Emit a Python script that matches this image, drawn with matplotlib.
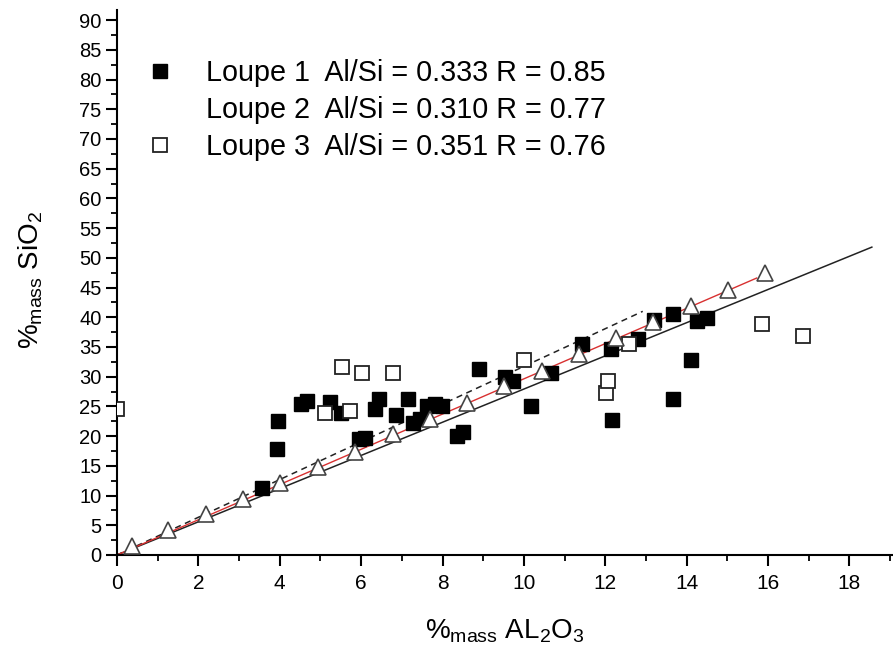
#!/usr/bin/env python3
"""SiO2 vs Al2O3 (% massique) pour les trois loupes, avec droites Al/Si."""

import matplotlib
matplotlib.use("Agg")
import matplotlib.pyplot as plt
from matplotlib.lines import Line2D
from matplotlib.ticker import MultipleLocator

# ── données ──────────────────────────────────────────────────────────────────

# Loupe 1 (carrés pleins)
loupe1_al2o3 = [3.56, 3.93, 3.96, 4.52, 4.67, 5.23, 5.50, 5.95, 6.09, 6.34,
                6.44, 6.86, 7.15, 7.27, 7.44, 7.62, 7.81, 7.99, 8.35, 8.50,
                8.89, 9.53, 9.73, 10.17, 10.66, 11.43, 12.14, 12.16, 12.80,
                13.19, 13.66, 14.25, 14.50, 14.10, 13.66]
loupe1_sio2 = [11.3, 17.8, 22.5, 25.4, 25.9, 25.7, 23.9, 19.5, 19.7, 24.6,
               26.2, 23.6, 26.2, 22.2, 22.9, 25.1, 25.4, 25.1, 20.0, 20.7,
               31.3, 30.0, 29.3, 25.1, 30.6, 35.5, 34.7, 22.7, 36.3,
               39.5, 40.5, 39.4, 39.9, 32.8, 26.2]

# Loupe 3 (carrés vides)
loupe3_al2o3 = [0.0, 5.11, 5.53, 5.72, 6.02, 6.78, 10.0, 12.01, 12.06, 12.58,
                15.85, 16.86]
loupe3_sio2 = [24.6, 23.9, 31.6, 24.2, 30.6, 30.6, 32.8, 27.3, 29.3, 35.5,
               38.9, 36.8]

# points de la droite (triangles)
tri_al2o3 = [0.37, 1.25, 2.19, 3.10, 4.00, 4.94, 5.85, 6.78, 7.69, 8.60,
             9.51, 10.44, 11.35, 12.26, 13.17, 14.10, 15.01, 15.92]
tri_sio2 = [1.5, 4.2, 6.9, 9.4, 12.1, 14.8, 17.3, 20.3, 22.9, 25.6,
            28.4, 31.0, 33.8, 36.5, 39.2, 41.9, 44.6, 47.4]

# droites de régression (origine -> extrémité)
fit_black_x = [0.0, 18.55]
fit_black_y = [0.0, 51.8]
fit_red_x = [0.0, 15.72]
fit_red_y = [0.0, 46.6]
fit_dash_x = [0.0, 12.92]
fit_dash_y = [0.0, 41.0]

legend_labels = [
    "Loupe 1  Al/Si = 0.333 R = 0.85",
    "Loupe 2  Al/Si = 0.310 R = 0.77",
    "Loupe 3  Al/Si = 0.351 R = 0.76",
]


def main() -> None:
    plt.rcParams.update({
        "font.family": ["Liberation Sans", "DejaVu Sans"],
        "mathtext.default": "regular",
        "axes.linewidth": 1.5,
    })

    fig = plt.figure(figsize=(8.93, 6.52), dpi=100)
    ax = fig.add_axes([117 / 893, 97 / 652, (893 - 117) / 893, 545 / 652])

    ax.plot(fit_black_x, fit_black_y, color="#222222", lw=1.1, zorder=2)
    ax.plot(fit_dash_x, fit_dash_y, color="#222222", lw=1.1, ls=(0, (4, 3)), zorder=2)
    ax.plot(fit_red_x, fit_red_y, color="#d83030", lw=1.0, zorder=2)

    ax.plot(tri_al2o3, tri_sio2, ls="none", marker="^", ms=12, mfc="white",
            mec="#444444", mew=1.2, zorder=4)
    ax.plot(loupe1_al2o3, loupe1_sio2, ls="none", marker="s", ms=10, mfc="black",
            mec="black", zorder=3)
    ax.plot(loupe3_al2o3, loupe3_sio2, ls="none", marker="s", ms=10, mfc="white",
            mec="#222222", mew=1.3, zorder=3)

    ax.set_xlim(0, 19.07)
    ax.set_ylim(0, 91.7)
    ax.xaxis.set_major_locator(MultipleLocator(2))
    ax.xaxis.set_minor_locator(MultipleLocator(1))
    ax.yaxis.set_major_locator(MultipleLocator(5))
    ax.yaxis.set_minor_locator(MultipleLocator(2.5))
    ax.tick_params(which="major", direction="out", length=8, width=1.5)
    ax.tick_params(which="minor", direction="out", length=4.5, width=1.3)
    ax.tick_params(axis="y", labelsize=14.5, pad=3)
    ax.tick_params(axis="x", labelsize=15, pad=6)
    ax.spines["top"].set_visible(False)
    ax.spines["right"].set_visible(False)

    ax.set_xlabel("%$_{mass}$ AL$_2$O$_3$", fontsize=20)
    ax.xaxis.set_label_coords(0.5, -0.115)
    ax.set_ylabel("%$_{mass}$ SiO$_2$", fontsize=20)
    ax.yaxis.set_label_coords(-0.093, 0.505)

    handles = [
        Line2D([], [], ls="none", marker="s", ms=10, mfc="black", mec="black"),
        Line2D([], [], ls="none", marker="none"),
        Line2D([], [], ls="none", marker="s", ms=10, mfc="white", mec="#222222", mew=1.3),
    ]
    ax.legend(handles, legend_labels, loc="upper left", bbox_to_anchor=(0.0374, 0.910),
              frameon=False, fontsize=20.7, handlelength=1.0, handletextpad=1.07,
              labelspacing=0.32, borderaxespad=0, borderpad=0)

    fig.savefig("out.png", dpi=100)
    plt.close(fig)


if __name__ == "__main__":
    main()
